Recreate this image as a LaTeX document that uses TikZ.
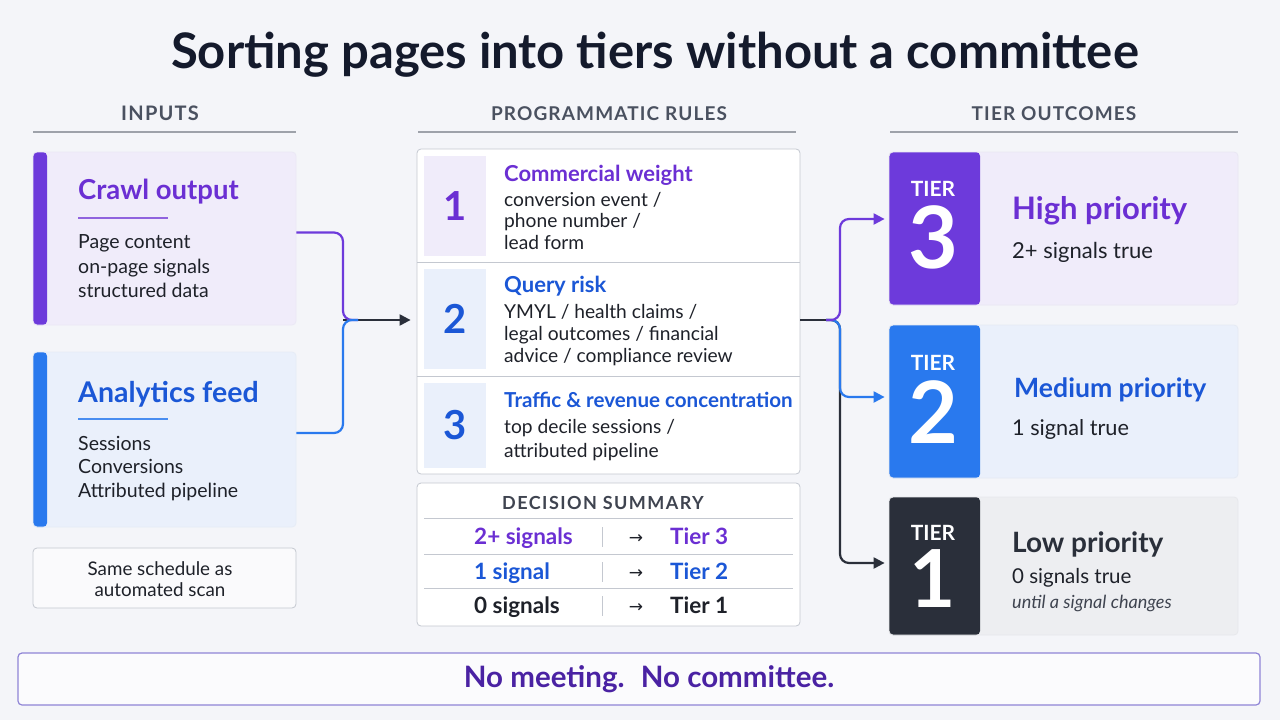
\documentclass[tikz,border=0pt]{standalone}
\usepackage{fontspec}
\setmainfont{Lato}
\newfontfamily\symf{DejaVu Sans}
\usetikzlibrary{arrows.meta,calc}
\definecolor{bg}{HTML}{F4F5F9}
\definecolor{titlec}{HTML}{141A2C}
\definecolor{hdrc}{HTML}{4A5160}
\definecolor{hline}{HTML}{9EA2AA}
\definecolor{purp}{HTML}{6B2FD3}
\definecolor{tpurp}{HTML}{6D3ADB}
\definecolor{bluet}{HTML}{1B57D6}
\definecolor{tblue}{HTML}{2979EE}
\definecolor{darkc}{HTML}{2A2F3A}
\definecolor{bodyc}{HTML}{1E2129}
\definecolor{lav}{HTML}{F0ECFA}
\definecolor{bluef}{HTML}{EAF0FB}
\definecolor{grayf}{HTML}{EDEEF1}
\definecolor{borderc}{HTML}{D8DBE2}
\definecolor{boxc}{HTML}{C4C8D0}
\definecolor{bannerc}{HTML}{8F84D6}
\definecolor{bannert}{HTML}{4A22A3}
\definecolor{grayt}{HTML}{3F4450}
\begin{document}
\begin{tikzpicture}[x=1pt,y=-1pt,
  card/.style={draw=borderc, line width=0.8pt, rounded corners=4pt, inner sep=0pt},
  txt/.style={inner sep=0pt, anchor=base west},
  hdr/.style={inner sep=0pt, anchor=base, text=hdrc, font=\fontsize{19}{22}\selectfont\bfseries\addfontfeatures{LetterSpace=6}},
  hdrline/.style={draw=hline, line width=1.2pt},
  bodyt/.style={txt, text=bodyc, font=\fontsize{19.5}{22}\selectfont},
  rbody/.style={txt, text=bodyc, font=\fontsize{19.2}{22}\selectfont},
  ctitle/.style={txt, font=\fontsize{27.5}{30}\selectfont\bfseries},
  rtitle/.style={txt, font=\fontsize{22}{25}\selectfont\bfseries},
  numsq/.style={inner sep=0pt, minimum width=62pt, font=\fontsize{40}{44}\selectfont\bfseries},
  sumt/.style={inner sep=0pt, anchor=base west, font=\fontsize{22.5}{25}\selectfont\bfseries},
  tiercard/.style={card, minimum width=349pt},
  tierlbl/.style={inner sep=0pt, anchor=base, text=white, font=\fontsize{21}{24}\selectfont\bfseries},
  tiernum/.style={inner sep=0pt, anchor=base, text=white, font=\fontsize{86}{90}\selectfont\bfseries},
  ttitle/.style={txt, font=\fontsize{31}{34}\selectfont\bfseries},
  tbody/.style={txt, text=bodyc, font=\fontsize{22}{25}\selectfont},
  conn/.style={line width=2.2pt, rounded corners=9pt},
  tip/.style={-{Triangle[length=11pt,width=11pt]}},
]
\useasboundingbox (0,0) rectangle (1280,720);
\fill[bg] (0,0) rectangle (1280,720);

% title
\node[inner sep=0pt, anchor=base, text=titlec, font=\fontsize{49}{52}\selectfont\bfseries] (title) at (655,68) {Sorting pages into tiers without a committee};

% column headers
\node[hdr, font=\fontsize{20}{22}\selectfont\bfseries\addfontfeatures{LetterSpace=6}] (hin) at (160,120) {INPUTS};
\node[hdr] (hrules) at (609,120) {PROGRAMMATIC RULES};
\node[hdr] (hout) at (1054,120) {TIER OUTCOMES};
\draw[hdrline] (33,132) -- (296,132);
\draw[hdrline] (418,132) -- (796,132);
\draw[hdrline] (890,132) -- (1238,132);

% input cards
\node[card, draw=lav!80!borderc, fill=lav, minimum width=263pt, minimum height=173pt,
  path picture={\fill[tpurp] (path picture bounding box.north west) rectangle ([xshift=14pt]path picture bounding box.south west);}]
  (crawl) at (164.5,238.5) {};
\node[ctitle, text=purp] (crawlt) at (78,199) {Crawl output};
\draw[purp!75, line width=1.3pt] (78,218) -- (168,218);
\node[bodyt] (crawl1) at (78,248) {Page content};
\node[bodyt] (crawl2) at (78,273) {on-page signals};
\node[bodyt] (crawl3) at (78,297) {structured data};

\node[card, draw=bluef!80!borderc, fill=bluef, minimum width=263pt, minimum height=175pt,
  path picture={\fill[tblue] (path picture bounding box.north west) rectangle ([xshift=14pt]path picture bounding box.south west);}]
  (ana) at (164.5,439.5) {};
\node[ctitle, text=bluet, font=\fontsize{28.5}{30}\selectfont\bfseries] (anat) at (78,402) {Analytics feed};
\draw[tblue!85, line width=1.3pt] (78,419) -- (168,419);
\node[bodyt] (ana1) at (78,450) {Sessions};
\node[bodyt] (ana2) at (78,473) {Conversions};
\node[bodyt] (ana3) at (78,497) {Attributed pipeline};

\node[card, draw=boxc, fill=bg!50!white, minimum width=263pt, minimum height=60pt] (sched) at (164.5,578) {};
\node[inner sep=0pt, anchor=base, text=bodyc, font=\fontsize{18.8}{20}\selectfont] (sched1) at (160,575) {Same schedule as};
\node[inner sep=0pt, anchor=base, text=bodyc, font=\fontsize{18.8}{20}\selectfont] (sched2) at (160,596) {automated scan};

% rules card
\node[card, draw=boxc, fill=white, minimum width=383pt, minimum height=325pt] (rules) at (608.5,311.5) {};
\draw[draw=boxc, line width=0.8pt] (417,262) -- (800,262);
\draw[draw=boxc, line width=0.8pt] (417,376) -- (800,376);
\node[numsq, fill=lav, minimum height=100pt, text=purp] (num1) at (455,206) {1};
\node[numsq, fill=bluef, minimum height=100pt, text=bluet] (num2) at (455,319) {2};
\node[numsq, fill=bluef, minimum height=85pt, text=bluet] (num3) at (455,425.5) {3};
\node[rtitle, text=purp] (r1t) at (504,181) {Commercial weight};
\node[rbody] (r1a) at (504,206) {conversion event /};
\node[rbody] (r1b) at (504,227) {phone number /};
\node[rbody] (r1c) at (504,249) {lead form};
\node[rtitle, text=bluet] (r2t) at (504,292) {Query risk};
\node[rbody] (r2a) at (504,318) {YMYL / health claims /};
\node[rbody] (r2b) at (504,340) {legal outcomes / financial};
\node[rbody] (r2c) at (504,362) {advice / compliance review};
\node[rtitle, text=bluet, font=\fontsize{20.6}{25}\selectfont\bfseries] (r3t) at (504,407) {Traffic \& revenue concentration};
\node[rbody] (r3a) at (504,433) {top decile sessions /};
\node[rbody] (r3b) at (504,457) {attributed pipeline};

% decision summary
\node[card, draw=boxc, fill=white, minimum width=383pt, minimum height=143pt] (sum) at (608.5,554.5) {};
\node[hdr, text=grayt, font=\fontsize{18}{20}\selectfont\bfseries\addfontfeatures{LetterSpace=8}] (sumh) at (603,509) {DECISION SUMMARY};
\foreach \yy in {518,554,588} \draw[draw=boxc, line width=0.8pt] (424,\yy) -- (793,\yy);
\foreach \yy in {544,579,613} \draw[draw=boxc, line width=1pt] (602,\yy-17) -- (602,\yy+3);
\node[sumt, text=purp] (s1l) at (474,544) {2+ signals};
\node[sumt, text=bluet] (s2l) at (474,579) {1 signal};
\node[sumt, text=bodyc] (s3l) at (474,613) {0 signals};
\node[inner sep=0pt, anchor=base, text=bodyc, font=\symf\fontsize{17}{20}\selectfont] (s1a) at (636,543) {→};
\node[inner sep=0pt, anchor=base, text=bodyc, font=\symf\fontsize{17}{20}\selectfont] (s2a) at (636,578) {→};
\node[inner sep=0pt, anchor=base, text=bodyc, font=\symf\fontsize{17}{20}\selectfont] (s3a) at (636,612) {→};
\node[sumt, text=purp] (s1r) at (670,544) {Tier 3};
\node[sumt, text=bluet] (s2r) at (670,579) {Tier 2};
\node[sumt, text=bodyc] (s3r) at (670,613) {Tier 1};

% tier cards
\node[tiercard, draw=lav!70!borderc, fill=lav, minimum height=153pt,
  path picture={\fill[tpurp] (path picture bounding box.north west) rectangle ([xshift=91pt]path picture bounding box.south west);}]
  (t3) at (1063.5,228.5) {};
\node[tierlbl] (t3l) at (933,196) {TIER};
\node[tiernum] (t3n) at (933,268) {3};
\node[ttitle, text=purp] (t3t) at (1012,219) {High priority};
\node[tbody] (t3b) at (1012,258) {2+ signals true};

\node[tiercard, draw=bluef!70!borderc, fill=bluef, minimum height=153pt,
  path picture={\fill[tblue] (path picture bounding box.north west) rectangle ([xshift=91pt]path picture bounding box.south west);}]
  (t2) at (1063.5,401.5) {};
\node[tierlbl] (t2l) at (933,370) {TIER};
\node[tiernum] (t2n) at (933,443) {2};
\node[ttitle, text=bluet, font=\fontsize{26.6}{32}\selectfont\bfseries] (t2t) at (1014,397) {Medium priority};
\node[tbody, font=\fontsize{21.7}{25}\selectfont] (t2b) at (1012,435) {1 signal true};

\node[tiercard, draw=grayf!70!borderc, fill=grayf, minimum height=138pt,
  path picture={\fill[darkc] (path picture bounding box.north west) rectangle ([xshift=91pt]path picture bounding box.south west);}]
  (t1) at (1063.5,566) {};
\node[tierlbl] (t1l) at (933,540) {TIER};
\node[tiernum, font=\fontsize{80}{84}\selectfont\bfseries] (t1n) at (933,607) {1};
\node[ttitle, text=darkc, font=\fontsize{28}{32}\selectfont\bfseries] (t1t) at (1012,552) {Low priority};
\node[tbody, font=\fontsize{20.5}{24}\selectfont] (t1b) at (1012,583) {0 signals true};
\node[txt, text=grayt, font=\fontsize{18.1}{20}\selectfont\itshape] (t1c) at (1012,608) {until a signal changes};

% left connectors
\coordinate (j1) at (343,320);
\coordinate (j1b) at (358,320);
\draw[darkc, line width=2.2pt, tip, shorten >=6pt] (j1) -- (rules.west |- j1);
\draw[conn, tpurp] ([yshift=6pt]crawl.east) -| (j1) -- (j1b);
\draw[conn, tblue] ([yshift=6.5pt]ana.east) -| (j1) -- (j1b);

% right connectors
\coordinate (j2a) at (826,320);
\coordinate (j2) at (840,320);
\draw[darkc, line width=2.2pt] ([yshift=-8.5pt]rules.east) -- (j2a);
\draw[conn, darkc, tip, shorten >=4pt] (j2a) -- (j2) |- ([yshift=3pt]t1.west);
\draw[conn, tblue, tip, shorten >=4pt] (j2a) -- (j2) |- ([yshift=4.5pt]t2.west);
\draw[conn, tpurp, tip, shorten >=4pt] (j2a) -- (j2) |- ([yshift=9.5pt]t3.west);

% banner
\node[card, draw=bannerc, line width=1.2pt, fill=bg!40!white, minimum width=1242pt, minimum height=52pt] (banner) at (639,679) {};
\node[inner sep=0pt, anchor=base, text=bannert, font=\fontsize{29.5}{32}\selectfont\bfseries] (bannert) at (649,687) {No meeting.\hspace{0.55em}No committee.};
\end{tikzpicture}
\end{document}
